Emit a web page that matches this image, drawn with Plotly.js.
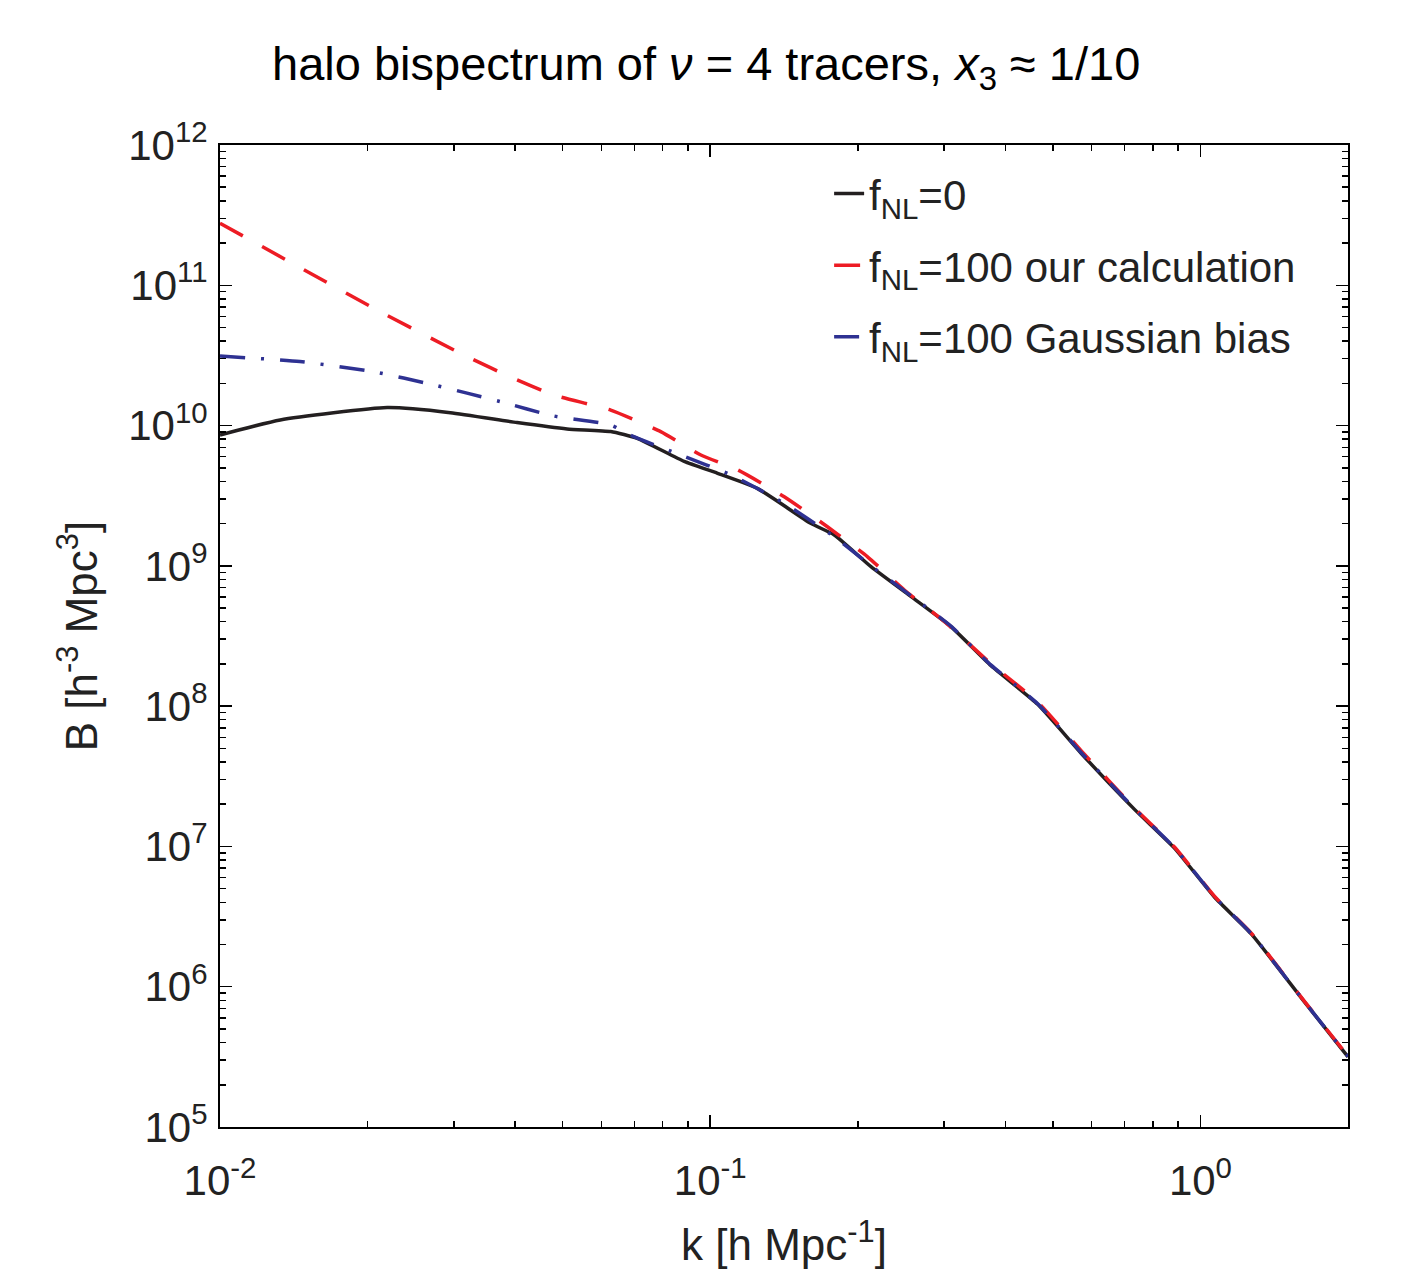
<!DOCTYPE html>
<html>
<head>
<meta charset="utf-8">
<script src="https://cdn.plot.ly/plotly-3.0.1.min.js"></script>
<style>html,body{margin:0;padding:0;background:#fff;}#chart{width:1419px;height:1269px;}</style>
</head>
<body>
<div id="chart"></div>
<script>
// k [h/Mpc] sample points
var kBlack = [0.0100, 0.01327, 0.02193, 0.02951, 0.04036, 0.05105, 0.06266, 0.07096, 0.08851, 0.1035, 0.1247, 0.1603, 0.1791, 0.2128, 0.2570, 0.3097, 0.3741, 0.4656, 0.5715, 0.7345, 0.8851, 1.069, 1.271, 1.633, 2.0];
var bBlack = [8.57e9, 1.096e10, 1.343e10, 1.236e10, 1.05e10, 9.46e9, 9.06e9, 8.11e9, 5.55e9, 4.57e9, 3.57e9, 2.01e9, 1.66e9, 9.86e8, 6.03e8, 3.69e8, 1.94e8, 1.03e8, 4.60e7, 1.83e7, 9.73e6, 4.34e6, 2.37e6, 7.73e5, 3.16e5];

var kRed = [0.0100, 0.01368, 0.02089, 0.03192, 0.03972, 0.04797, 0.06266, 0.07925, 0.09572, 0.1138, 0.1416, 0.1734, 0.2094, 0.2489, 0.3006, 0.3741, 0.4656, 0.5715, 0.7345, 0.8851, 1.069, 1.271, 1.633, 2.0];
var bRed = [2.77e11, 1.51e11, 6.67e10, 3.10e10, 2.17e10, 1.65e10, 1.29e10, 9.06e9, 6.17e9, 4.83e9, 3.11e9, 1.90e9, 1.16e9, 6.73e8, 4.00e8, 2.00e8, 1.07e8, 4.80e7, 1.87e7, 9.90e6, 4.40e6, 2.40e6, 7.80e5, 3.20e5];

var kBlue = [0.0100, 0.01455, 0.02056, 0.02729, 0.03733, 0.04797, 0.06266, 0.06982, 0.0871, 0.1102, 0.1416, 0.1791, 0.2128, 0.2570, 0.3097, 0.3741, 0.4656, 0.5715, 0.7345, 0.8851, 1.069, 1.271, 1.633, 2.0];
var bBlue = [3.13e10, 2.86e10, 2.42e10, 1.95e10, 1.48e10, 1.17e10, 1.01e10, 8.34e9, 6.17e9, 4.45e9, 2.79e9, 1.61e9, 1.00e9, 6.10e8, 3.72e8, 1.96e8, 1.04e8, 4.65e7, 1.85e7, 9.80e6, 4.37e6, 2.38e6, 7.75e5, 3.18e5];

var seriesNames = ["f<sub>NL</sub>=0", "f<sub>NL</sub>=100 our calculation", "f<sub>NL</sub>=100 Gaussian bias"];

var xTickVals = [0.01, 0.1, 1];
var xTickText = ["10<sup>-2</sup>", "10<sup>-1</sup>", "10<sup>0</sup>"];
var yTickVals = [1e5, 1e6, 1e7, 1e8, 1e9, 1e10, 1e11, 1e12];
var yTickText = ["10<sup>5</sup>", "10<sup>6</sup>", "10<sup>7</sup>", "10<sup>8</sup>", "10<sup>9</sup>", "10<sup>10</sup>", "10<sup>11</sup>", "10<sup>12</sup>"];

function minorVals(lo, hi) {
  var out = [];
  for (var e = lo; e < hi; e++) {
    for (var m = 2; m <= 9; m++) out.push(m * Math.pow(10, e));
  }
  return out;
}

var FONT = "Liberation Sans, Arial, Helvetica, sans-serif";

var traces = [
  {x: kBlack, y: bBlack, name: seriesNames[0], legendgroup: "a", mode: "lines",
   line: {color: "#231f20", width: 3.5, shape: "spline", smoothing: 0.5}},
  {x: kRed, y: bRed, name: seriesNames[1], legendgroup: "b", mode: "lines",
   line: {color: "#ed1c24", width: 3.5, dash: "26px,22px", shape: "spline", smoothing: 0.5}},
  {x: kBlue, y: bBlue, name: seriesNames[2], legendgroup: "c", mode: "lines",
   line: {color: "#2e3192", width: 3.5, dash: "25px,16px,3px,16px", shape: "spline", smoothing: 0.5}}
];

var axisCommon = {
  type: "log", showline: true, linecolor: "#000", linewidth: 2,
  mirror: "ticks", ticks: "inside", ticklen: 12, tickwidth: 1.5, tickcolor: "#000",
  showgrid: false, zeroline: false,
  tickfont: {family: FONT, size: 42, color: "#222"}
};

var layout = {
  width: 1419, height: 1269,
  margin: {l: 220, r: 71, t: 145, b: 142},
  paper_bgcolor: "#fff", plot_bgcolor: "#fff",
  font: {family: FONT, color: "#000"},
  title: {
    text: "halo bispectrum of <i>ν</i> = 4 tracers, <i>x</i><sub>3</sub> ≈ 1/10",
    font: {family: FONT, size: 47, color: "#000"},
    x: 0.431, xref: "paper", xanchor: "center",
    y: 0.950, yref: "container", yanchor: "middle"
  },
  xaxis: Object.assign({}, axisCommon, {
    range: [-2, Math.log10(2.0)],
    tickmode: "array", tickvals: xTickVals, ticktext: xTickText,
    ticklabelstandoff: 16,
    minor: {tickmode: "array", tickvals: minorVals(-2, 1), ticks: "inside", ticklen: 6, tickwidth: 1.5, tickcolor: "#000", showgrid: false},
    title: {text: "k [h Mpc<sup>-1</sup>]", font: {family: FONT, size: 44, color: "#222"}, standoff: 30}
  }),
  yaxis: Object.assign({}, axisCommon, {
    range: [5, 12],
    tickmode: "array", tickvals: yTickVals, ticktext: yTickText,
    ticklabelstandoff: 2,
    minor: {tickmode: "array", tickvals: minorVals(5, 12), ticks: "inside", ticklen: 6, tickwidth: 1.5, tickcolor: "#000", showgrid: false},
    title: {text: "B [h<sup>-3</sup> Mpc<sup>3</sup>]", font: {family: FONT, size: 44, color: "#222"}, standoff: 17}
  }),
  showlegend: true,
  legend: {
    x: 0.54, y: 0.985, xanchor: "left", yanchor: "top",
    bgcolor: "rgba(0,0,0,0)", borderwidth: 0,
    font: {family: FONT, size: 42, color: "#222"},
    tracegroupgap: 14
  }
};

Plotly.newPlot("chart", traces, layout, {displayModeBar: false, staticPlot: true});
</script>
</body>
</html>
